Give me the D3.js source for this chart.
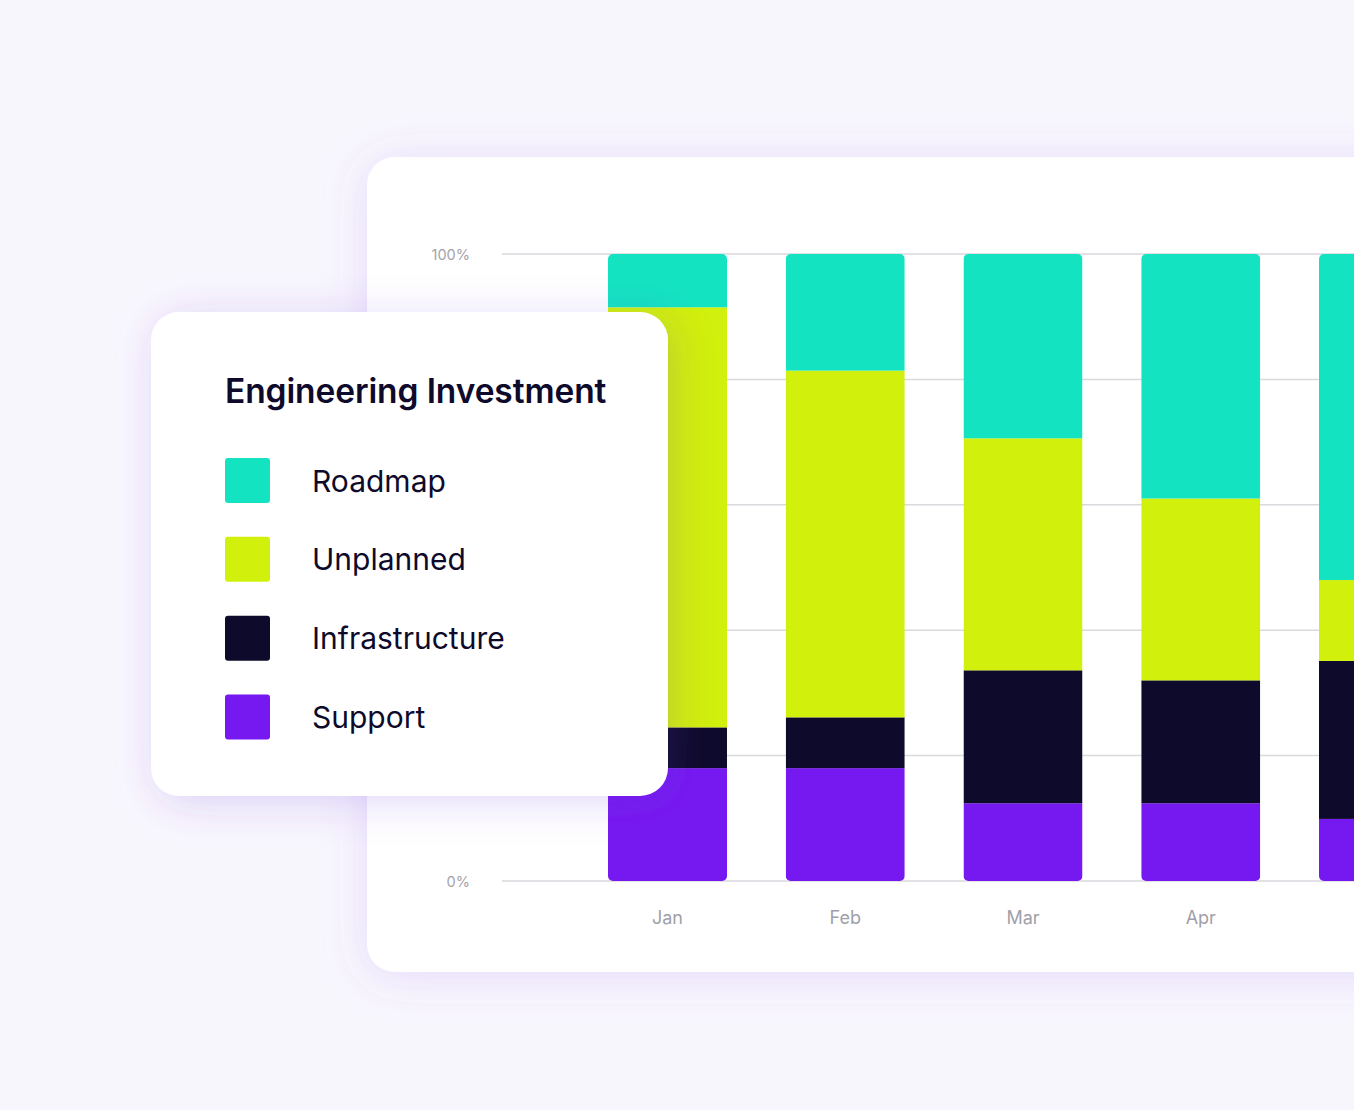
<!DOCTYPE html>
<html><head><meta charset="utf-8">
<script src="https://cdn.jsdelivr.net/npm/d3@7"></script>
<style>
html,body{margin:0;padding:0;background:#f8f6fd;overflow:hidden;}
svg{display:block;}
</style></head>
<body>
<svg id="c" width="1354" height="1110"></svg>
<script>
const months = ["Jan","Feb","Mar","Apr","May"];
const seriesNames = ["Support","Infrastructure","Unplanned","Roadmap"];
const support        = [18, 18, 12.4, 12.4, 9.9];
const infrastructure = [6.5, 8.1, 21.2, 19.6, 25.2];
const unplanned      = [67, 55.3, 37, 29, 12.9];
const roadmap        = [8.5, 18.6, 29.4, 39.0, 52.0];
const yTicks = [0, 20, 40, 60, 80, 100];
const yTickLabels = {0:"0%", 100:"100%"};
const legendOrder = ["Roadmap","Unplanned","Infrastructure","Support"];
const colors = {Roadmap:"#14e3c1", Unplanned:"#d1f00b", Infrastructure:"#0e0a2b", Support:"#7619f0"};

const W = 1354;
const svg = d3.select("#c");
const defs = svg.append("defs");
const f1 = defs.append("filter").attr("id","sh1").attr("x","-20%").attr("y","-20%").attr("width","140%").attr("height","140%");
f1.append("feDropShadow").attr("dx",0).attr("dy",4).attr("stdDeviation",22).attr("flood-color","#8a5cf0").attr("flood-opacity",0.18);
const f2 = defs.append("filter").attr("id","sh2").attr("x","-20%").attr("y","-20%").attr("width","140%").attr("height","140%");
f2.append("feDropShadow").attr("dx",6).attr("dy",6).attr("stdDeviation",20).attr("flood-color","#6a3ad8").attr("flood-opacity",0.2);

// main card
svg.append("rect").attr("x",367).attr("y",157).attr("width",1100).attr("height",815)
  .attr("rx",28).attr("fill","#fff").attr("filter","url(#sh1)");

const y = d3.scaleLinear().domain([0,100]).range([881,254]);
const x = d3.scaleBand().domain(months).range([608,1438]).paddingInner(0.3305).paddingOuter(0);

// gridlines
svg.append("g").selectAll("line").data(yTicks).join("line")
  .attr("x1",502).attr("x2",W).attr("y1",d=>y(d)).attr("y2",d=>y(d))
  .attr("stroke","#d9d9de").attr("stroke-width",1.5);

svg.append("g").selectAll("text").data(yTicks.filter(t=>yTickLabels[t])).join("text")
  .attr("x",470).attr("y",d=>y(d)+5.5).attr("text-anchor","end")
  .attr("font-family","Inter, sans-serif").attr("font-size",14.5).attr("fill","#a3a3ab")
  .text(d=>yTickLabels[d]);

// stacked data
const table = months.map((m,i)=>({month:m, Support:support[i], Infrastructure:infrastructure[i], Unplanned:unplanned[i], Roadmap:roadmap[i]}));
const stack = d3.stack().keys(seriesNames)(table);

const bars = svg.append("g");
months.forEach((m,i)=>{
  const total = seriesNames.reduce((s,k)=>s+table[i][k],0);
  defs.append("clipPath").attr("id","clip"+i).append("rect")
    .attr("x",x(m)).attr("width",x.bandwidth()).attr("y",y(total)).attr("height",y(0)-y(total)).attr("rx",5);
});
stack.forEach(layer=>{
  bars.append("g").selectAll("rect").data(layer).join("rect")
    .attr("clip-path",(d,i)=>"url(#clip"+i+")")
    .attr("x",d=>x(d.data.month)).attr("width",x.bandwidth())
    .attr("y",d=>y(d[1])).attr("height",d=>y(d[0])-y(d[1]))
    .attr("fill",colors[layer.key]);
});

// month labels (only those whose label lies inside the visible page)
svg.append("g").selectAll("text").data(months.filter(m=>x(m)+x.bandwidth()/2 + 25 < W)).join("text")
  .attr("x",d=>x(d)+x.bandwidth()/2).attr("y",924).attr("text-anchor","middle")
  .attr("font-family","Inter, sans-serif").attr("font-size",18).attr("fill","#a0a0a8")
  .text(d=>d);

// legend card
const lg = svg.append("g");
lg.append("rect").attr("x",151).attr("y",312).attr("width",517).attr("height",484).attr("rx",28)
  .attr("fill","#fff").attr("filter","url(#sh2)");
lg.append("text").attr("x",225).attr("y",403).attr("font-family","Inter, sans-serif")
  .attr("font-weight",600).attr("font-size",33.5).attr("letter-spacing",-0.1).attr("fill","#0e0a2b")
  .text("Engineering Investment");
const ly = d3.scalePoint().domain(legendOrder).range([480.5,717]);
legendOrder.forEach(k=>{
  lg.append("rect").attr("x",225).attr("y",ly(k)-22.5).attr("width",45).attr("height",45).attr("rx",3).attr("fill",colors[k]);
  lg.append("text").attr("x",312).attr("y",ly(k)+11).attr("font-family","Inter, sans-serif")
    .attr("font-size",30).attr("fill","#0e0a2b").text(k);
});
</script>
</body></html>
